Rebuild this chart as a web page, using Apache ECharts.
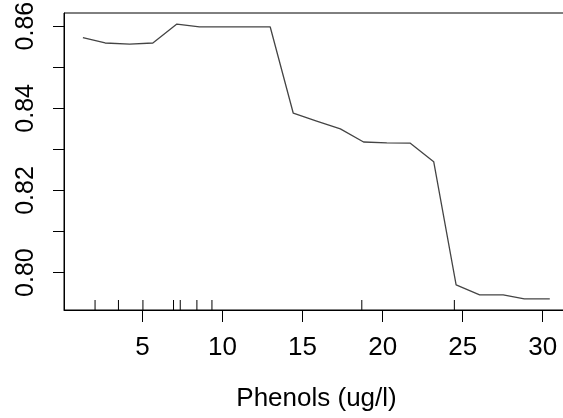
<!DOCTYPE html>
<html>
<head>
<meta charset="utf-8">
<script src="https://cdn.jsdelivr.net/npm/echarts@6/dist/echarts.min.js"></script>
<style>
  html, body { margin: 0; padding: 0; background: #fff; }
  #main { width: 563px; height: 418px; }
</style>
</head>
<body>
<div id="main"></div>
<script type="text/javascript">
    // partial dependence of the fitted value on phenols
    var phenols = [1.28, 2.67, 4.2, 5.65, 7.15, 8.56, 10.04, 11.5, 12.98, 14.42, 15.88, 17.36, 18.81, 20.26, 21.73, 23.19, 24.59, 26.06, 27.53, 28.85, 30.44];
    var partial = [0.8572, 0.8559, 0.8556, 0.8559, 0.8605, 0.8598, 0.8598, 0.8598, 0.8598, 0.8388, 0.8369, 0.8350, 0.8318, 0.8316, 0.8315, 0.8270, 0.7970, 0.7946, 0.7946, 0.7936, 0.7936];
    // deciles of phenols (rug)
    var rug = [2.04, 3.5, 5.03, 6.94, 7.36, 8.4, 9.34, 18.7, 24.48];
    var xTicks = [5, 10, 15, 20, 25, 30];
    var yTicks = [0.80, 0.81, 0.82, 0.83, 0.84, 0.85, 0.86];
    var yLabels = [0.80, 0.82, 0.84, 0.86];

    var xMin = 0.1, xMax = 31.64;
    var yMin = 0.7909, yMax = 0.8632;
    var font = '"Liberation Sans", Arial, sans-serif';

    var lineData = [];
    for (var i = 0; i < phenols.length; i++) {
        lineData.push([phenols[i], partial[i]]);
    }

    var myChart = echarts.init(document.getElementById('main'), null, {renderer: 'canvas'});
    myChart.setOption({
        animation: false,
        grid: {
            left: 64,
            top: 13,
            width: 505,
            height: 297,
            containLabel: false,
            outerBoundsMode: 'none',
            show: true,
            borderColor: '#000',
            borderWidth: 1
        },
        xAxis: {
            type: 'value',
            min: xMin,
            max: xMax,
            name: 'Phenols (ug/l)',
            nameLocation: 'middle',
            nameGap: 76,
            nameTextStyle: {color: '#000', fontSize: 26, fontFamily: font},
            axisLine: {show: true, lineStyle: {color: '#000', width: 1}},
            axisTick: {show: true, length: 12, customValues: xTicks, lineStyle: {color: '#000'}},
            axisLabel: {
                customValues: xTicks,
                color: '#000',
                fontSize: 26,
                fontFamily: font,
                margin: 25
            },
            splitLine: {show: false}
        },
        yAxis: {
            type: 'value',
            min: yMin,
            max: yMax,
            axisLine: {show: true, lineStyle: {color: '#000', width: 1}},
            axisTick: {show: true, length: 11, customValues: yTicks, lineStyle: {color: '#000'}},
            axisLabel: {
                customValues: yLabels,
                rotate: 90,
                color: '#000',
                fontSize: 25,
                fontFamily: font,
                margin: 25,
                formatter: function (v) { return v.toFixed(2); }
            },
            splitLine: {show: false}
        },
        series: [
            {
                type: 'line',
                data: lineData,
                symbol: 'none',
                lineStyle: {color: '#444', width: 1.3}
            },
            {
                type: 'custom',
                data: rug.map(function (v) { return [v]; }),
                renderItem: function (params, api) {
                    var p = api.coord([api.value(0), yMin]);
                    return {
                        type: 'line',
                        shape: {x1: p[0], y1: p[1], x2: p[0], y2: p[1] - 10},
                        style: {stroke: '#000', lineWidth: 1}
                    };
                }
            }
        ]
    });
</script>
</body>
</html>
